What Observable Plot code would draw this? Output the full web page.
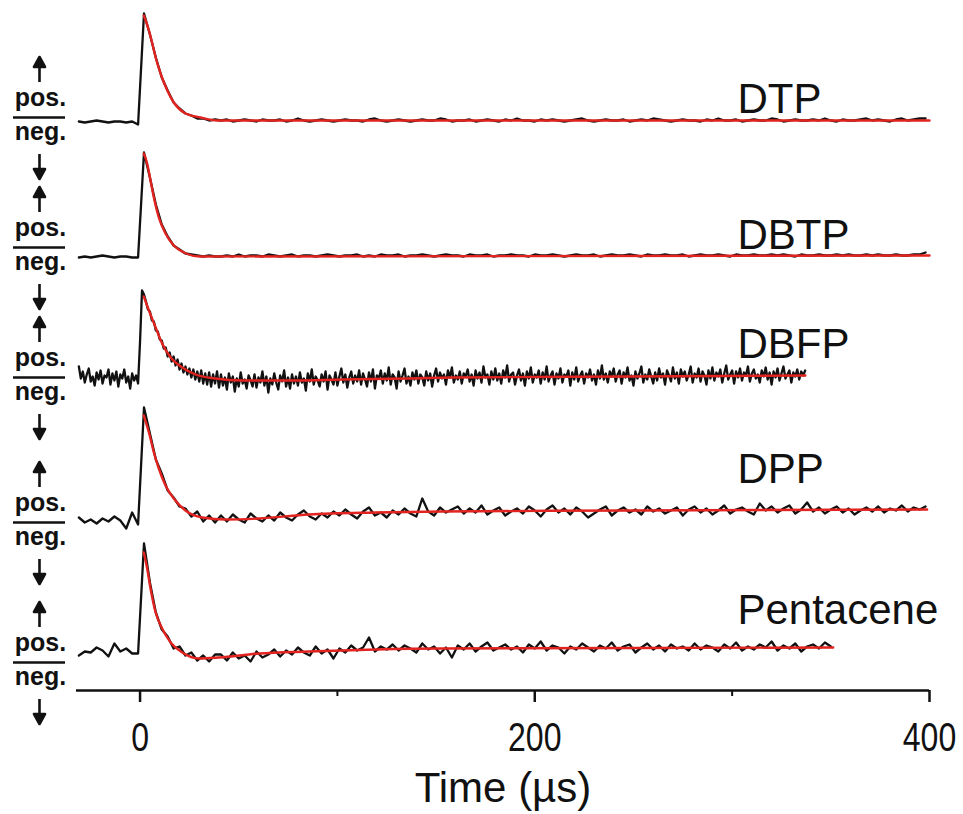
<!DOCTYPE html>
<html><head><meta charset="utf-8">
<script src="https://cdn.jsdelivr.net/npm/d3@7"></script>
<script src="https://cdn.jsdelivr.net/npm/@observablehq/plot@0.6"></script>
<style>
body{margin:0;background:#fff;}
#chart svg{display:block;}
</style></head><body><div id="chart"></div>
<script>
// ---- data (signal in relative units, 1.0 ≈ peak height) ----
const names = ["DTP", "DBTP", "DBFP", "DPP", "Pentacene"];
const sampleStart = -31;            // µs, first sample of every trace
const sampleSteps = [3, 3, 1, 3, 3]; // µs between samples, per trace

const dtpSignal = [
 -0.01,-0.02,-0.01,0.00,-0.01,-0.02,-0.01,-0.01,-0.02,-0.01,-0.04,
 1.07,
 0.86,0.63,0.43,0.30,0.18,0.12,0.07,0.05,0.02,0.02,0.00,0.01,
 0.00,0.01,-0.01,0.00,0.01,0.00,-0.01,0.01,0.00,0.00,
 0.01,-0.01,0.00,0.02,0.00,-0.01,0.00,0.01,0.00,-0.01,
 0.00,0.01,0.00,0.00,-0.01,0.01,0.02,0.00,-0.01,0.00,
 0.01,0.00,-0.01,0.00,0.01,0.00,0.00,0.02,0.01,-0.01,
 0.00,0.00,0.01,-0.01,0.00,0.01,0.00,-0.01,0.01,0.00,
 0.02,0.00,0.00,-0.01,0.01,0.00,0.01,0.00,-0.01,0.00,
 0.01,0.02,0.00,-0.01,0.00,0.01,0.00,0.00,0.01,-0.01,
 0.00,0.01,0.00,0.02,0.01,0.00,-0.01,0.00,0.01,0.00,
 0.00,-0.01,0.01,0.00,0.02,0.00,0.00,0.01,-0.01,0.00,
 0.01,0.00,0.00,0.02,0.01,-0.01,0.00,0.01,0.00,0.00,
 0.01,0.00,0.02,0.00,-0.01,0.01,0.00,0.00,0.01,0.02,
 0.00,0.01,0.00,-0.01,0.01,0.02,0.00,0.01,0.02,0.02
];
const dbtpSignal = [
 -0.04,-0.03,-0.04,-0.03,-0.02,-0.03,-0.04,-0.03,-0.03,-0.04,-0.04,
 1.01,
 0.76,0.49,0.29,0.17,0.08,0.04,0.00,-0.01,-0.02,-0.03,-0.02,-0.03,
 -0.03,-0.02,-0.03,-0.01,-0.03,-0.02,-0.02,-0.03,-0.01,-0.02,
 -0.03,-0.02,-0.01,-0.03,-0.02,-0.02,-0.03,-0.02,-0.01,-0.02,
 -0.03,-0.02,-0.02,-0.01,-0.03,-0.02,-0.03,-0.01,-0.02,-0.02,
 -0.01,-0.03,-0.02,-0.02,-0.01,-0.02,-0.03,-0.02,-0.01,-0.02,
 -0.02,-0.03,-0.01,-0.02,-0.02,-0.01,-0.03,-0.02,-0.02,-0.01,
 -0.02,-0.02,-0.03,-0.01,-0.02,-0.02,-0.01,-0.02,-0.03,-0.02,
 -0.01,-0.02,-0.02,-0.01,-0.03,-0.02,-0.01,-0.02,-0.02,-0.01,
 -0.02,-0.03,-0.01,-0.02,-0.02,-0.01,-0.02,-0.02,-0.01,-0.03,
 -0.02,-0.01,-0.02,-0.02,-0.01,-0.02,-0.03,-0.01,-0.02,-0.02,
 -0.01,-0.02,-0.02,-0.01,-0.02,-0.01,-0.02,-0.03,-0.01,-0.02,
 -0.02,-0.01,-0.02,-0.02,-0.01,-0.02,-0.01,-0.02,-0.02,-0.01,
 -0.02,-0.01,-0.02,-0.02,-0.01,-0.02,-0.02,-0.01,-0.01,0.01
];
const dbfpSignal = [
 0.20,0.08,0.15,0.04,0.12,0.18,0.05,0.10,0.01,0.14,0.07,0.16,0.03,0.11,0.09,0.17,
 0.02,0.13,0.06,0.15,0.00,0.12,0.08,0.17,0.04,0.10,-0.02,0.13,0.06,0.11,0.03,
 0.45,0.96,
 0.92,0.85,0.77,0.75,0.66,0.65,0.56,0.55,0.47,0.46,0.38,0.39,0.30,0.34,0.25,0.30,
 0.21,0.27,0.17,0.23,0.14,0.20,0.12,0.18,0.09,0.17,0.07,0.15,0.05,0.16,0.03,0.13,
 0.02,0.14,0.00,0.12,0.03,0.15,-0.01,
 0.12,0.01,0.09,-0.03,0.13,0.04,0.10,-0.05,0.08,0.00,
 0.14,0.03,0.07,-0.02,0.11,0.06,0.00,0.12,-0.01,0.09,
 0.04,0.15,0.01,0.10,-0.06,0.08,0.02,0.13,0.04,-0.03,
 0.11,0.05,0.16,0.00,0.09,-0.02,0.12,0.03,0.10,0.01,
 0.14,0.04,0.08,-0.04,0.13,0.05,0.17,0.02,0.10,0.06,
 0.00,0.12,0.05,0.15,-0.03,0.11,0.07,0.02,0.14,0.01,
 0.10,0.18,0.04,0.12,-0.01,0.09,0.15,0.03,0.11,0.05,
 0.16,0.02,0.13,0.07,0.00,0.14,0.05,0.17,-0.02,0.11,
 0.08,0.16,0.03,0.13,0.06,0.19,0.02,0.12,0.09,-0.02,
 0.15,0.05,0.11,0.18,0.03,0.10,0.01,0.14,0.07,0.16,
 0.03,0.12,0.09,0.01,0.15,0.06,0.13,0.00,0.11,0.18,
 0.05,0.14,0.08,0.12,0.02,0.16,0.09,0.19,0.04,0.11,
 0.07,0.15,0.03,0.13,0.10,0.17,0.05,0.12,0.01,0.16,
 0.08,0.14,0.04,0.20,0.09,0.12,0.02,0.15,0.07,0.18,
 0.06,0.13,0.03,0.16,0.09,0.21,0.05,0.12,0.14,0.02,
 0.11,0.17,0.06,0.13,0.01,0.15,0.08,0.19,0.04,0.12,
 0.09,0.16,0.03,0.14,0.07,0.20,0.05,0.11,0.15,0.02,
 0.13,0.08,0.18,0.04,0.12,0.10,0.16,0.01,0.14,0.07,
 0.19,0.05,0.11,0.15,0.03,0.13,0.09,0.17,0.06,0.12,
 0.02,0.16,0.08,0.21,0.07,0.13,0.04,0.15,0.10,0.18,
 0.05,0.12,0.16,0.03,0.14,0.09,0.19,0.06,0.11,0.01,
 0.15,0.08,0.13,0.20,0.04,0.12,0.07,0.17,0.10,0.03,
 0.14,0.06,0.18,0.09,0.13,0.02,0.16,0.11,0.05,0.19,
 0.08,0.14,0.03,0.17,0.10,0.15,0.06,0.12,0.20,0.04,
 0.13,0.09,0.18,0.05,0.15,0.11,0.02,0.16,0.08,0.19,
 0.06,0.14,0.10,0.17,0.04,0.13,0.21,0.07,0.12,0.16,
 0.03,0.15,0.09,0.18,0.06,0.14,0.11,0.20,0.05,0.13,
 0.17,0.08,0.12,0.04,0.16,0.10,0.19,0.07,0.14,0.02,
 0.15,0.09,0.18,0.06,0.13,0.20,0.08,0.12,0.16,0.04,
 0.14,0.10,0.17,0.07,0.15,0.11,0.16
];
const dppSignal = [
 0.02,-0.03,0.00,-0.04,0.01,-0.02,0.03,-0.01,-0.09,0.07,-0.05,
 1.12,
 0.86,0.60,0.46,0.29,0.22,0.13,0.11,0.03,0.08,-0.02,0.04,-0.03,
 0.04,-0.02,0.05,0.00,-0.03,0.06,0.01,-0.02,0.04,-0.01,
 0.07,0.02,-0.01,0.05,0.09,0.03,0.00,0.06,0.02,0.08,
 0.04,0.10,0.05,0.01,0.08,0.12,0.04,0.07,0.02,0.09,
 0.05,0.11,0.06,0.03,0.21,0.08,0.04,0.12,0.07,0.10,
 0.13,0.06,0.11,0.07,0.14,0.05,0.09,0.12,0.04,0.08,
 0.11,0.06,0.13,0.09,0.03,0.10,0.14,0.07,0.11,0.05,
 0.12,0.08,0.02,0.06,0.10,0.13,0.04,0.09,0.12,0.07,
 0.10,0.05,0.13,0.08,0.11,0.06,0.09,0.12,0.04,0.10,
 0.13,0.07,0.11,0.05,0.09,0.14,0.06,0.10,0.12,0.08,
 0.05,0.16,0.09,0.13,0.07,0.11,0.14,0.06,0.10,0.17,
 0.08,0.12,0.06,0.10,0.13,0.07,0.11,0.05,0.09,0.12,
 0.08,0.13,0.07,0.11,0.09,0.14,0.08,0.12,0.10,0.13
];
const pentaceneSignal = [
 -0.03,0.01,0.00,0.05,0.02,-0.04,0.09,0.01,0.04,-0.01,-0.01,
 1.09,
 0.70,0.40,0.23,0.16,0.04,0.06,-0.03,0.00,-0.08,-0.03,-0.09,-0.02,
 -0.02,-0.08,0.00,-0.06,-0.03,-0.09,0.01,-0.05,-0.02,0.03,
 -0.04,0.02,-0.02,0.05,0.00,-0.03,0.06,-0.01,0.03,-0.06,
 0.04,0.00,0.07,0.02,0.05,0.15,0.01,0.06,0.03,0.08,
 0.02,0.07,0.04,0.00,0.09,0.03,0.06,-0.01,0.05,-0.05,
 0.07,0.03,0.09,0.01,0.06,0.10,0.02,0.05,0.08,0.03,
 0.06,0.00,0.08,0.04,0.11,0.02,0.07,0.05,-0.01,0.06,
 0.03,0.09,0.05,0.01,0.07,0.04,0.10,0.02,0.06,0.08,
 0.00,0.05,0.09,0.03,0.07,0.01,0.08,0.04,0.06,0.02,
 0.09,0.03,0.07,0.05,0.01,0.08,0.04,0.10,0.02,0.06,
 0.03,0.08,0.05,0.11,0.02,0.07,0.04,0.09,0.01,0.06,
 0.08,0.04,0.10,0.06
];

// fitted decay curves (red), read at points along each curve
const dtpFitT = [1.9, 4.5, 6.2, 7.9, 10.4, 13.8, 17.1, 22.2, 30.6, 39.1, 400];
const dtpFitV = [1.05, 0.90, 0.77, 0.63, 0.47, 0.30, 0.18, 0.08, 0.03, 0.00, 0.00];
const dbtpFitT = [1.9, 3.6, 5.3, 7.0, 9.5, 12.9, 17.1, 22.2, 30.6, 400];
const dbtpFitV = [1.00, 0.90, 0.73, 0.56, 0.36, 0.20, 0.08, 0.01, -0.03, -0.02];
const dbfpFitT = [1.9, 4.5, 7.9, 11.2, 15.5, 21.4, 28.1, 38.2, 51.8, 77.1, 102.4, 136.2, 158.2, 250, 337.1];
const dbfpFitV = [0.90, 0.76, 0.59, 0.43, 0.29, 0.19, 0.12, 0.08, 0.06, 0.06, 0.07, 0.08, 0.09, 0.10, 0.11];
const dppFitT = [1.9, 4.5, 7.0, 9.5, 12.9, 17.1, 23.0, 31.5, 43.3, 60.2, 85.5, 119.3, 153.1, 250, 398.8];
const dppFitV = [1.04, 0.87, 0.67, 0.51, 0.34, 0.21, 0.09, 0.02, 0.00, 0.01, 0.05, 0.07, 0.08, 0.09, 0.10];
const pentaceneFitT = [1.9, 3.6, 5.3, 7.9, 11.2, 15.5, 21.4, 29.8, 39.9, 60.2, 85.5, 119.3, 153.1, 250, 351.2];
const pentaceneFitV = [1.00, 0.84, 0.64, 0.40, 0.24, 0.10, 0.00, -0.06, -0.05, -0.01, 0.01, 0.03, 0.04, 0.045, 0.05];

const xTicks = [0, 200, 400];
const xMinorTicks = [100, 300];
const xTitle = "Time (µs)";
const posText = "pos.", negText = "neg.";

// ---- build tables ----
const signals = [dtpSignal, dbtpSignal, dbfpSignal, dppSignal, pentaceneSignal];
const fitTs = [dtpFitT, dbtpFitT, dbfpFitT, dppFitT, pentaceneFitT];
const fitVs = [dtpFitV, dbtpFitV, dbfpFitV, dppFitV, pentaceneFitV];

const rows = names.map((name, i) => ({name, i}));
const traceData = names.flatMap((name, i) =>
  signals[i].map((v, k) => ({name, i, t: sampleStart + k * sampleSteps[i], v})));
const fitData = names.flatMap((name, i) =>
  fitTs[i].map((t, k) => ({name, i, t, v: fitVs[i][k]})));

// ---- layout ----
const SPACING = 1.33;                       // vertical offset between stacked traces
const Y_DOMAIN = [-5.7, 1.2];
const X_DOMAIN = [-32.2, 400];
const stackY = d => d.v - d.i * SPACING;
const nameLift = [0.08, 0.05, 0.29, 0.37, 0.29];       // trace name baseline above trace zero
const signLift = [0.03, 0.06, 0.09, -0.03, -0.10];     // pos./neg. divider relative to trace zero
const signY = d => -d.i * SPACING + signLift[d.i];
const FONT = "'Liberation Sans', Arial, Helvetica, sans-serif";
const RED = "#e2231f";

// solid arrow: thin shaft plus filled triangular head
const solidArrow = {
  draw(context, l) {
    const h = 10, w = 5.5;
    context.moveTo(0, 0);
    context.lineTo(0, -l + h);
    context.moveTo(0, -l);
    context.lineTo(w, -l + h);
    context.lineTo(-w, -l + h);
    context.closePath();
  }
};

const labelCommon = {y: signY, frameAnchor: "left", dx: -36, textAnchor: "middle", fontWeight: "bold", fill: "#111"};
const arrowCommon = {y: signY, frameAnchor: "left", dx: -37, length: 25, anchor: "middle",
  shape: solidArrow, stroke: "#111", fill: "#111", strokeWidth: 2.6, strokeLinecap: "butt"};

const chart = Plot.plot({
  width: 963,
  height: 814,
  marginLeft: 76,
  marginRight: 34,
  marginTop: 0,
  marginBottom: 124,
  style: {fontFamily: FONT, background: "#fff", color: "#111", overflow: "visible"},
  x: {domain: X_DOMAIN},
  y: {domain: Y_DOMAIN, axis: null},
  marks: [
    Plot.line(traceData, {x: "t", y: stackY, z: "name", stroke: "#111", strokeWidth: 2.3, strokeLinejoin: "round"}),
    Plot.line(fitData, {x: "t", y: stackY, z: "name", stroke: RED, strokeWidth: 2.4, curve: "monotone-x"}),
    Plot.ruleY([Y_DOMAIN[0]], {stroke: "#111", strokeWidth: 2.5}),
    Plot.axisX(xTicks, {tickSize: 12, tickPadding: 20, fontSize: 40, strokeWidth: 2.5, label: null, fill: "#111"}),
    Plot.axisX(xMinorTicks, {tickSize: 6, tickFormat: () => "", strokeWidth: 2, label: null}),
    Plot.text([xTitle], {frameAnchor: "bottom", dy: 111, lineAnchor: "bottom", fontSize: 42, fill: "#111"}),
    Plot.text(rows, {x: () => 302.7, y: d => -d.i * SPACING + nameLift[d.i], text: "name",
      textAnchor: "start", lineAnchor: "bottom", fontSize: 42, fill: "#111"}),
    Plot.vector(rows, {...arrowCommon, dy: -48, rotate: 0}),
    Plot.text(rows, {...labelCommon, text: () => posText, dy: -12, lineAnchor: "bottom", fontSize: 25}),
    Plot.ruleY(rows, {y: signY, insetLeft: -63, insetRight: 864, stroke: "#111", strokeWidth: 2.5}),
    Plot.text(rows, {...labelCommon, text: () => negText, dy: 22, lineAnchor: "bottom", fontSize: 25}),
    Plot.vector(rows, {...arrowCommon, dy: 49, rotate: 180})
  ]
});

// tick labels in the reference are set in a condensed face
chart.querySelectorAll('g[aria-label="x-axis tick label"] text').forEach(t => {
  t.setAttribute("transform", (t.getAttribute("transform") || "") + " scale(0.8,1)");
});
document.getElementById("chart").append(chart);
</script>
</body></html>
